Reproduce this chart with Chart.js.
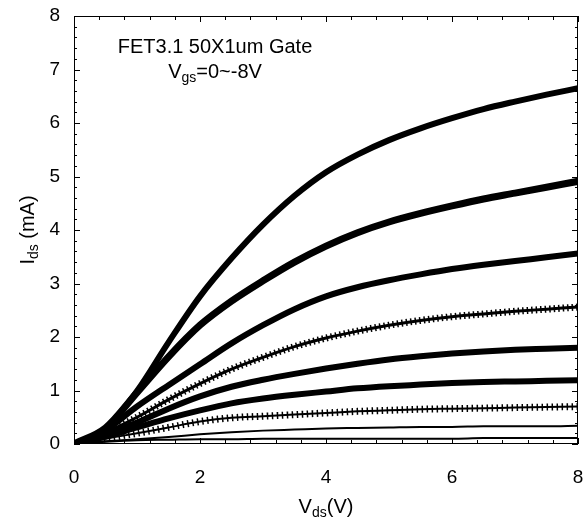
<!DOCTYPE html>
<html><head><meta charset="utf-8">
<script src="https://cdn.jsdelivr.net/npm/chart.js@4.4.0/dist/chart.umd.min.js"></script>
<style>html,body{margin:0;padding:0;background:#fff}</style>
</head><body>
<canvas id="c" width="583" height="521"></canvas>
<script>
// ---- data ----
const vds = [0,0.5,1,1.5,2,2.5,3,3.5,4,4.5,5,5.5,6,6.5,7,7.5,8];
const vgs0 = [0,0.29,0.99,1.90,2.76,3.47,4.10,4.64,5.08,5.41,5.68,5.90,6.09,6.26,6.40,6.53,6.65];
const vgs1 = [0,0.30,0.96,1.63,2.22,2.67,3.05,3.40,3.70,3.95,4.15,4.31,4.45,4.58,4.69,4.80,4.91];
const vgs2 = [0,0.26,0.70,1.10,1.49,1.88,2.22,2.52,2.76,2.93,3.06,3.17,3.27,3.35,3.42,3.49,3.56];
const vgs3 = [0,0.22,0.50,0.83,1.13,1.40,1.62,1.82,1.98,2.11,2.22,2.31,2.38,2.43,2.48,2.52,2.56];
const vgs4 = [0,0.18,0.40,0.66,0.89,1.07,1.20,1.31,1.41,1.50,1.58,1.64,1.69,1.73,1.76,1.78,1.80];
const vgs5 = [0,0.14,0.31,0.48,0.63,0.76,0.85,0.92,0.98,1.04,1.08,1.11,1.14,1.16,1.17,1.18,1.19];
const vgs6 = [0,0.10,0.20,0.31,0.42,0.49,0.52,0.55,0.58,0.61,0.63,0.65,0.66,0.67,0.68,0.69,0.70];
const vgs7 = [0,0.05,0.09,0.13,0.18,0.22,0.25,0.27,0.29,0.30,0.31,0.32,0.32,0.33,0.33,0.33,0.34];
const vgs8 = [0,0.04,0.07,0.08,0.09,0.09,0.10,0.10,0.10,0.10,0.10,0.10,0.10,0.11,0.11,0.11,0.11];
const xTickValues = [0,2,4,6,8];
const yTickValues = [0,1,2,3,4,5,6,7,8];

const pts = arr => arr.map((v,i)=>({x:vds[i], y:v}));
const base = {cubicInterpolationMode:'monotone', pointRadius:0, fill:false, borderColor:'#000'};
function ds(arr, w, extra){ return Object.assign({}, base, {data:pts(arr), borderWidth:w}, extra||{}); }

const datasets = [
  ds(vgs0, 6),
  ds(vgs1, 7), ds(vgs1, 2, {borderColor:'#fff', borderDash:[2,3]}),
  ds(vgs2, 6), ds(vgs2, 2, {borderColor:'#fff', borderDash:[2,3]}),
  ds(vgs3, 3), ds(vgs3, 7, {borderDash:[1.5,3]}),
  ds(vgs4, 6),
  ds(vgs5, 6),
  ds(vgs6, 2), ds(vgs6, 7, {borderDash:[1.5,3.5]}),
  ds(vgs7, 2),
  ds(vgs8, 2)
];

const FONT = '"Liberation Sans", Arial, Helvetica, sans-serif';

function drawRich(ctx, parts, x, y, size, subSize){
  let total = 0;
  const w = parts.map(p=>{ ctx.font = (p.sub?subSize:size)+'px '+FONT; const m = ctx.measureText(p.t).width; total += m; return m; });
  let cx = x - total/2;
  parts.forEach((p,i)=>{
    ctx.font = (p.sub?subSize:size)+'px '+FONT;
    ctx.fillText(p.t, cx, y + (p.sub? size*0.22 : 0));
    cx += w[i];
  });
}

const deco = {
  id:'deco',
  afterDraw(chart){
    const {ctx, chartArea:a, scales:{x, y}} = chart;
    ctx.save();
    ctx.strokeStyle = '#000'; ctx.lineWidth = 1;
    ctx.strokeRect(a.left+0.5, a.top+0.5, a.right-a.left-1, a.bottom-a.top-1);
    ctx.beginPath();
    for (let i=0;i<=20;i++){
      const px = Math.round(x.getPixelForValue(i*0.4))+0.5;
      const len = (i%5===0)?6:4;
      ctx.moveTo(px, a.bottom); ctx.lineTo(px, a.bottom-len);
      ctx.moveTo(px, a.top); ctx.lineTo(px, a.top+len);
    }
    for (let i=0;i<=40;i++){
      const py = Math.round(y.getPixelForValue(i*0.2))+0.5;
      const len = (i%5===0)?6:3;
      ctx.moveTo(a.left, py); ctx.lineTo(a.left+len, py);
      ctx.moveTo(a.right, py); ctx.lineTo(a.right-len, py);
    }
    ctx.stroke();
    ctx.fillStyle = '#000';
    ctx.textBaseline = 'alphabetic';
    ctx.textAlign = 'center';
    ctx.font = '20px '+FONT;
    ctx.fillText('FET3.1 50X1um Gate', 215, 53);
    ctx.textAlign = 'left';
    drawRich(ctx, [{t:'V'},{t:'gs',sub:true},{t:'=0~-8V'}], 215, 78, 20, 14);
    drawRich(ctx, [{t:'V'},{t:'ds',sub:true},{t:'(V)'}], (a.left+a.right)/2, 513, 20, 14);
    ctx.save();
    ctx.translate(34, (a.top+a.bottom)/2);
    ctx.rotate(-Math.PI/2);
    drawRich(ctx, [{t:'I'},{t:'ds',sub:true},{t:' (mA)'}], 0, 0, 20, 14);
    ctx.restore();
    ctx.restore();
  }
};

new Chart(document.getElementById('c'), {
  type:'line',
  data:{datasets},
  plugins:[deco],
  options:{
    responsive:false, animation:false,
    layout:{padding:{left:0, right:5, top:16, bottom:0}},
    plugins:{legend:{display:false}, tooltip:{enabled:false}},
    scales:{
      x:{type:'linear', min:0, max:8,
         afterFit(s){ s.height = 77; s.paddingLeft = 0; s.paddingRight = 0; },
         afterBuildTicks(s){ s.ticks = xTickValues.map(v=>({value:v})); },
         grid:{display:false, drawTicks:false}, border:{display:false},
         ticks:{padding:22, color:'#000', font:{family:FONT, size:19}, maxRotation:0, autoSkip:false}},
      y:{min:0, max:8,
         afterFit(s){ s.width = 74; s.paddingTop = 0; s.paddingBottom = 0; },
         afterBuildTicks(s){ s.ticks = yTickValues.map(v=>({value:v})); },
         grid:{display:false, drawTicks:false}, border:{display:false},
         ticks:{padding:14, color:'#000', font:{family:FONT, size:19}, autoSkip:false}}
    }
  }
});
</script>
</body></html>
